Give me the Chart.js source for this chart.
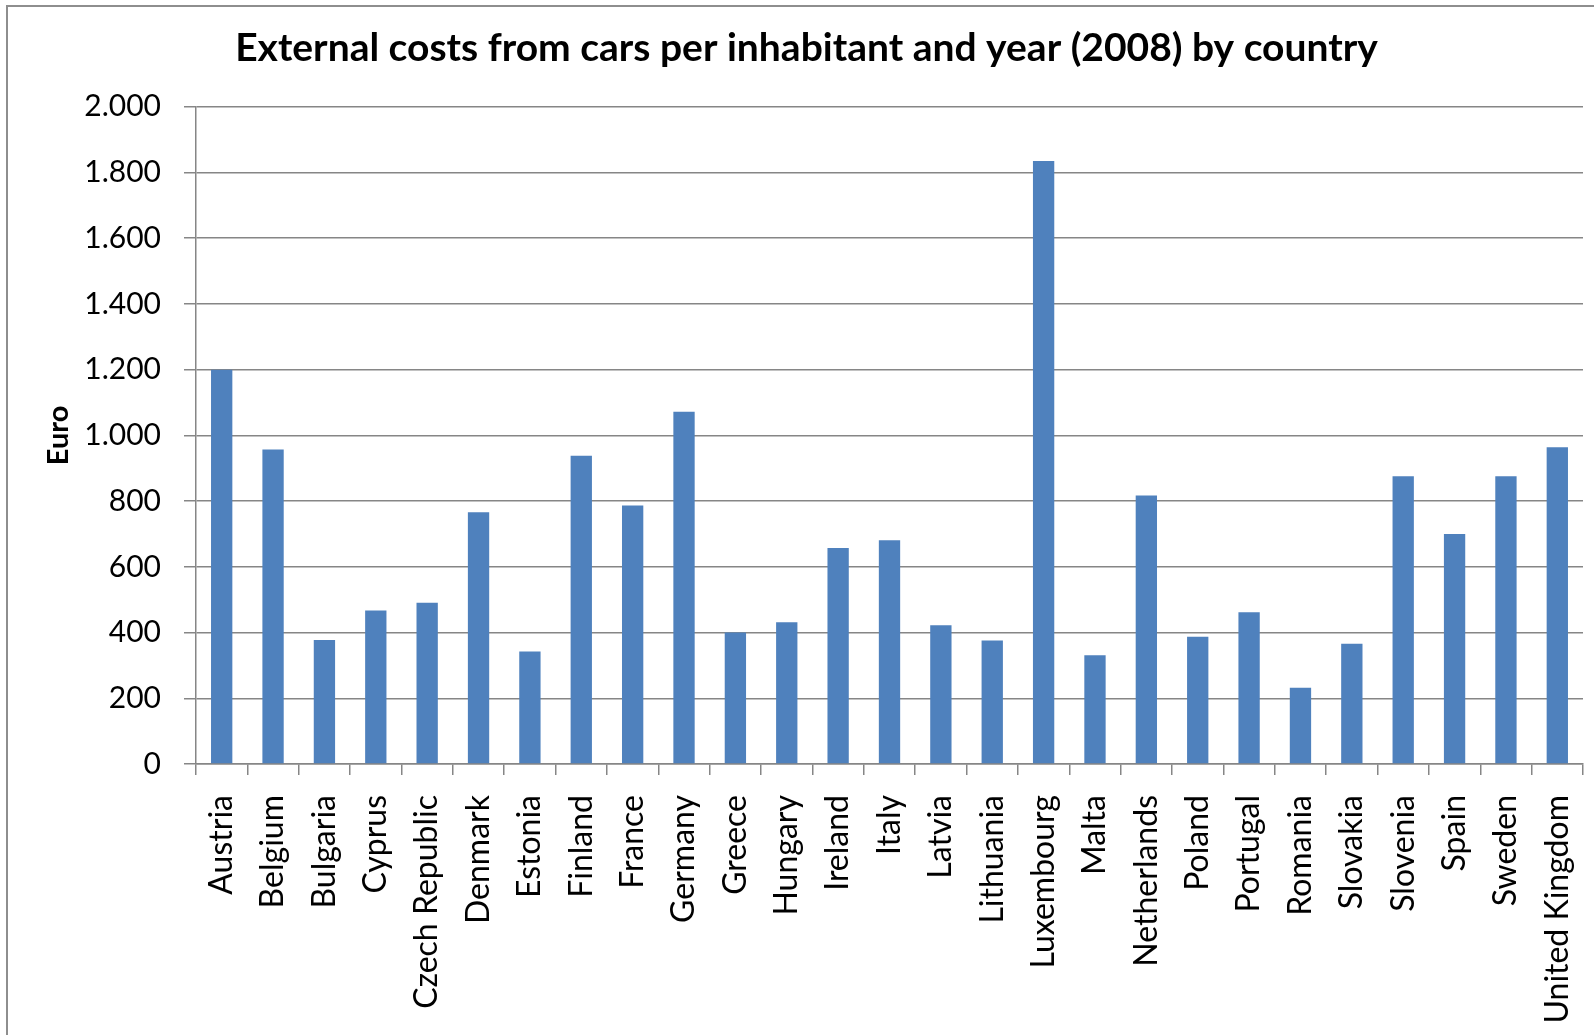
<!DOCTYPE html>
<html>
<head>
<meta charset="utf-8">
<script src="https://cdn.jsdelivr.net/npm/chart.js@4.4.0/dist/chart.umd.min.js"></script>
<style>
html,body{margin:0;padding:0;background:#fff;overflow:hidden}
#wrap{position:relative;width:1594px;height:1035px}
</style>
</head>
<body>
<div id="wrap"><canvas id="c" width="1594" height="1035"></canvas></div>
<script>
const chartTitle = 'External costs from cars per inhabitant and year (2008) by country';
const yAxisTitle = 'Euro';
const categories = ['Austria','Belgium','Bulgaria','Cyprus','Czech Republic','Denmark','Estonia','Finland','France','Germany','Greece','Hungary','Ireland','Italy','Latvia','Lithuania','Luxembourg','Malta','Netherlands','Poland','Portugal','Romania','Slovakia','Slovenia','Spain','Sweden','United Kingdom'];
const costs = [1200,957,377,467,491,766,342,938,787,1072,400,431,657,681,422,376,1835,331,817,387,462,232,366,876,700,876,964];
const yMin = 0, yMax = 2000, yStep = 200;

function fmt(v){
  if (v >= 1000) return Math.floor(v/1000) + '.' + String(v % 1000).padStart(3,'0');
  return String(v);
}

const framePlugin = {
  id: 'frame',
  beforeDraw(chart){
    const ctx = chart.ctx;
    ctx.save();
    ctx.fillStyle = '#fff';
    ctx.fillRect(0,0,chart.width,chart.height);
    ctx.strokeStyle = '#8e8e8e';
    ctx.lineWidth = 2;
    ctx.beginPath();
    ctx.moveTo(7, chart.height + 5);
    ctx.lineTo(7, 6);
    ctx.lineTo(chart.width + 5, 6);
    ctx.stroke();
    ctx.restore();
  }
};

const gridColor = '#868686';
const fontFamily = 'Lato, "Open Sans", sans-serif';

new Chart(document.getElementById('c'), {
  type: 'bar',
  data: {
    labels: categories,
    datasets: [{
      data: costs,
      backgroundColor: '#4f81bd',
      borderWidth: 0,
      categoryPercentage: 1,
      barPercentage: 0.415
    }]
  },
  options: {
    responsive: false,
    animation: false,
    devicePixelRatio: 1,
    layout: { padding: { left: 30, right: 11, top: 0, bottom: 0 } },
    plugins: {
      legend: { display: false },
      tooltip: { enabled: false },
      title: {
        display: true,
        text: chartTitle,
        color: '#000',
        font: { family: fontFamily, size: 39, weight: 'bold' },
        padding: { top: 25, bottom: 35 }
      }
    },
    scales: {
      x: {
        type: 'category',
        offset: true,
        grid: { display: true, drawOnChartArea: false, drawTicks: true, tickLength: 11, offset: true, color: gridColor, lineWidth: 1.5 },
        border: { display: true, color: gridColor, width: 1.5 },
        ticks: {
          autoSkip: false, minRotation: 90, maxRotation: 90, padding: 20,
          color: '#000', font: { family: fontFamily, size: 32 }
        },
        afterFit(scale){ scale.height = 271; scale.paddingLeft = 0; scale.paddingRight = 0; }
      },
      y: {
        min: yMin, max: yMax,
        grid: { color: gridColor, lineWidth: 1.5, tickLength: 12, drawTicks: true },
        border: { display: true, color: gridColor, width: 1.5 },
        ticks: {
          stepSize: yStep, padding: 23, color: '#000',
          font: { family: fontFamily, size: 30 },
          callback: (v) => fmt(v)
        },
        title: {
          display: true, text: yAxisTitle, color: '#000',
          font: { family: fontFamily, size: 29, weight: 'bold' },
          padding: { top: 11, bottom: 0 }
        },
        afterFit(scale){ scale.width = 166; }
      }
    }
  },
  plugins: [framePlugin]
});
</script>
</body>
</html>
